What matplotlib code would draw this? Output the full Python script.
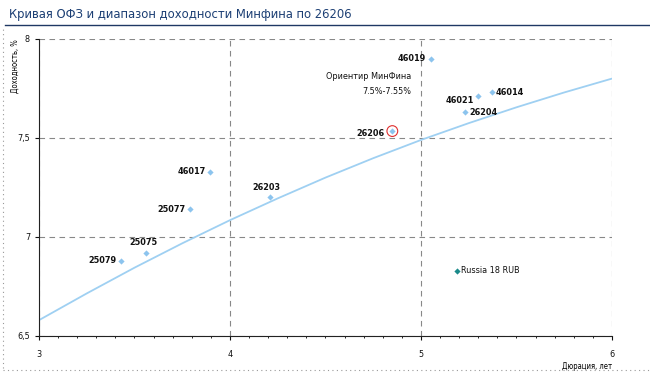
import matplotlib.pyplot as plt
from matplotlib.lines import Line2D
from matplotlib.ticker import MultipleLocator, FixedLocator

plt.rcParams['font.family'] = ['DejaVu Sans']
plt.rcParams['font.stretch'] = 'condensed'

# bonds: duration (years), yield (%)
bonds = ["46019", "46014", "46021", "26204", "26206", "46017", "25077", "26203", "25075", "25079"]
duration = [5.05, 5.37, 5.30, 5.23, 4.85, 3.895, 3.79, 4.21, 3.56, 3.43]
ytm = [7.90, 7.73, 7.71, 7.63, 7.535, 7.33, 7.14, 7.20, 6.92, 6.88]

euro_name = "Russia 18 RUB"
euro_dur = 5.19
euro_ytm = 6.83

# fitted curve
curve_x = [3.0, 3.25, 3.5, 3.75, 4.0, 4.25, 4.5, 4.75, 5.0, 5.25, 5.5, 5.75, 6.0]
curve_y = [6.58, 6.715, 6.845, 6.968, 7.085, 7.195, 7.30, 7.398, 7.49, 7.575, 7.655, 7.73, 7.80]

label_pos = {
    "46019": (-3, 0, "right", "center"),
    "46014": (3, 0, "left", "center"),
    "46021": (-3, -3, "right", "center"),
    "26204": (3, 0, "left", "center"),
    "26206": (-6, -2, "right", "center"),
    "46017": (-3, 0, "right", "center"),
    "25077": (-3, 0, "right", "center"),
    "26203": (-3, 4, "center", "bottom"),
    "25075": (-2, 4, "center", "bottom"),
    "25079": (-3, 0, "right", "center"),
}

fig = plt.figure(figsize=(6.5, 3.76), dpi=100)
ax = fig.add_axes([0.06, 0.1064, 0.8815, 0.7899])

ax.plot(curve_x, curve_y, color="#9fd0f2", lw=1.3, zorder=2)
ax.scatter(duration, ytm, marker="D", s=10, color="#8cc4ee", zorder=3, linewidths=0)
ax.scatter([euro_dur], [euro_ytm], marker="D", s=10, color="#1a8a8a", zorder=3, linewidths=0)

for name, x, y in zip(bonds, duration, ytm):
    dx, dy, ha, va = label_pos[name]
    ax.annotate(name, (x, y), xytext=(dx, dy), textcoords="offset points",
                ha=ha, va=va, fontsize=6.5, color="#111111", fontweight="semibold")
ax.annotate(euro_name, (euro_dur, euro_ytm), xytext=(3, 0), textcoords="offset points",
            ha="left", va="center", fontsize=6.5, color="#111111")

# red ring round 26206
ax.scatter([4.85], [7.535], s=60, facecolors="none", edgecolors="#e03030", linewidths=0.8, zorder=4)

ax.text(4.95, 7.81, "Ориентир МинФина", ha="right", va="center", fontsize=6.5, color="#111111")
ax.text(4.95, 7.735, "7.5%-7.55%", ha="right", va="center", fontsize=6.5, color="#111111")

ax.set_xlim(3, 6)
ax.set_ylim(6.5, 8)
ax.xaxis.set_major_locator(FixedLocator([3, 4, 5, 6]))
ax.yaxis.set_major_locator(FixedLocator([6.5, 7, 7.5, 8]))
ax.xaxis.set_minor_locator(MultipleLocator(0.1))
ax.set_xticklabels(["3", "4", "5", "6"])
ax.set_yticklabels(["6,5", "7", "7,5", "8"])
ax.tick_params(labelsize=6.5, length=3, width=0.8, colors="#111111")
ax.tick_params(axis="x", pad=7)
ax.tick_params(which="minor", length=1.5, width=0.6)

ax.grid(True, which="major", linestyle=(0, (5, 4)), color="#888888", lw=0.8)
ax.spines["top"].set_visible(False)
ax.spines["right"].set_visible(False)
ax.spines["left"].set_color("#222222")
ax.spines["bottom"].set_color("#222222")
ax.set_axisbelow(True)

ax.set_ylabel("Доходность, %", fontsize=5.5, loc="top", labelpad=-2)
ax.set_xlabel("Дюрация, лет", fontsize=5.5, loc="right", labelpad=2)

fig.text(0.014, 0.962, "Кривая ОФЗ и диапазон доходности Минфина по 26206",
         fontsize=9.3, color="#1c3f74", ha="left", va="center")
fig.add_artist(Line2D([0.008, 1.0], [0.933, 0.933], color="#1f3864", lw=1.0))
fig.add_artist(Line2D([0.004, 0.004], [0.02, 0.93], color="#999999", lw=0.8, ls=(0, (1, 3))))
fig.add_artist(Line2D([0.004, 1.0], [0.015, 0.015], color="#999999", lw=0.8, ls=(0, (1, 3))))

fig.savefig("out.png", dpi=100)
